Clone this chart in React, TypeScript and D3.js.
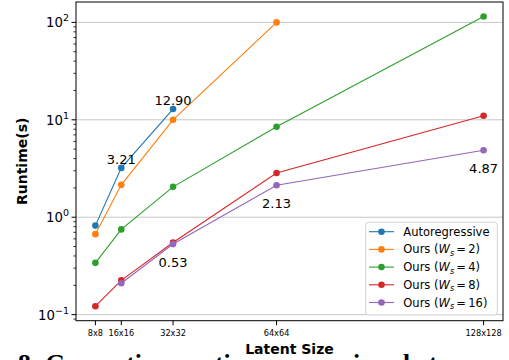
import React from "react";
import * as d3 from "d3";

// latent sizes (side length) and their tick labels
const sizes = [8, 16, 32, 64, 128];
const sizeLabels = ["8x8", "16x16", "32x32", "64x64", "128x128"];

// runtimes in seconds, null = not measured
const autoregressive = [0.82, 3.21, 12.9, null, null];
const oursWs2 = [0.67, 2.15, 10.0, 100.0, null];
const oursWs4 = [0.34, 0.75, 2.05, 8.5, 115.0];
const oursWs8 = [0.122, 0.225, 0.55, 2.84, 11.0];
const oursWs16 = [null, 0.21, 0.53, 2.13, 4.87];

const seriesNames = ["Autoregressive", "2", "4", "8", "16"];
const seriesColors = ["#1f77b4", "#ff7f0e", "#2ca02c", "#d62728", "#9467bd"];
const allSeries = [autoregressive, oursWs2, oursWs4, oursWs8, oursWs16];

// value labels: [series index, point index, text, above?]
const annotations: [number, number, string, boolean][] = [
  [0, 1, "3.21", true],
  [0, 2, "12.90", true],
  [4, 2, "0.53", false],
  [4, 3, "2.13", false],
  [4, 4, "4.87", false],
];

const majorTicks = [0.1, 1, 10, 100];
const majorExp = ["\u22121", "0", "1", "2"];

const W = 509;
const H = 360;
const pad = { left: 76, right: 503, top: 2, bottom: 320.7 };

export default function App() {
  const x = d3.scaleLinear().domain([2, 134]).range([pad.left, pad.right]);
  const y = d3
    .scaleLog()
    .domain([Math.pow(10, -1.0623), Math.pow(10, 2.2094)])
    .range([pad.bottom, pad.top]);

  const minorTicks: number[] = [];
  [0.01, 0.1, 1, 10, 100].forEach((base) => {
    for (let k = 2; k <= 9; k++) {
      const v = k * base;
      if (v >= y.domain()[0] && v <= y.domain()[1]) minorTicks.push(v);
    }
  });

  const line = d3
    .line<[number, number | null]>()
    .defined((d) => d[1] != null)
    .x((d) => x(d[0]))
    .y((d) => y(d[1] as number));

  const font = "DejaVu Sans";
  const legendX = 365.7;
  const legendY = 222.3;
  const rowH = 17.7;

  return (
    <svg
      width={W}
      height={H}
      style={{ position: "absolute", left: 0, top: 0, background: "#fff" }}
      fontFamily={font}
    >
      {/* grid */}
      {majorTicks.map((t) => (
        <line
          key={"g" + t}
          x1={pad.left}
          x2={pad.right}
          y1={y(t)}
          y2={y(t)}
          stroke="#c8c8c8"
          strokeWidth={1}
        />
      ))}

      {/* series */}
      {allSeries.map((s, i) => {
        const pts = sizes.map((sz, j) => [sz, s[j]] as [number, number | null]);
        return (
          <g key={"s" + i}>
            <path d={line(pts) || ""} fill="none" stroke={seriesColors[i]} strokeWidth={1.1} />
            {pts
              .filter((p) => p[1] != null)
              .map((p, j) => (
                <circle key={j} cx={x(p[0])} cy={y(p[1] as number)} r={3.3} fill={seriesColors[i]} />
              ))}
          </g>
        );
      })}

      {/* value labels */}
      {annotations.map(([si, pi, txt, above]) => {
        const v = allSeries[si][pi] as number;
        return (
          <text
            key={txt}
            x={x(sizes[pi])}
            y={y(v) + (above ? -4 : 23)}
            textAnchor="middle"
            fontSize={13}
            fill="#000"
          >
            {txt}
          </text>
        );
      })}

      {/* spines */}
      <rect
        x={pad.left}
        y={pad.top}
        width={pad.right - pad.left}
        height={pad.bottom - pad.top}
        fill="none"
        stroke="#000"
        strokeWidth={1}
      />

      {/* y ticks */}
      {majorTicks.map((t, i) => (
        <g key={"yt" + t}>
          <line x1={pad.left - 4.5} x2={pad.left} y1={y(t)} y2={y(t)} stroke="#000" strokeWidth={1} />
          <text x={pad.left - 7} y={y(t) + 5} textAnchor="end" fontSize={13.3} fill="#000">
            10
            <tspan dy={-6} fontSize={9.5}>
              {majorExp[i]}
            </tspan>
          </text>
        </g>
      ))}
      {minorTicks.map((t) => (
        <line
          key={"ym" + t}
          x1={pad.left - 2.6}
          x2={pad.left}
          y1={y(t)}
          y2={y(t)}
          stroke="#000"
          strokeWidth={0.8}
        />
      ))}

      {/* x ticks */}
      {sizes.map((sz, i) => (
        <g key={"xt" + sz}>
          <line x1={x(sz)} x2={x(sz)} y1={pad.bottom} y2={pad.bottom + 4.5} stroke="#000" strokeWidth={1} />
          <text x={x(sz)} y={336} textAnchor="middle" fontSize={8.2} fill="#000">
            {sizeLabels[i]}
          </text>
        </g>
      ))}

      {/* figure caption, cut off by the page edge */}
      <text x={18} y={372} fontSize={25.5} fontWeight="bold" fontFamily="Liberation Serif" fill="#000">
        8: Generation runtime comparison between
      </text>

      {/* axis titles */}
      <text
        x={(pad.left + pad.right) / 2}
        y={354}
        textAnchor="middle"
        fontSize={14}
        fontWeight="bold"
        fill="#000"
      >
        Latent Size
      </text>
      <text
        transform={`translate(26.5,${(pad.top + pad.bottom) / 2}) rotate(-90)`}
        textAnchor="middle"
        fontSize={14}
        fontWeight="bold"
        fill="#000"
      >
        Runtime(s)
      </text>

      {/* legend */}
      <rect
        x={legendX}
        y={legendY}
        width={131.6}
        height={92.7}
        rx={3}
        fill="#fff"
        fillOpacity={0.8}
        stroke="#d4d4d4"
        strokeWidth={1}
      />
      {seriesNames.map((name, i) => {
        const ly = 231.7 + i * rowH;
        return (
          <g key={"l" + i}>
            <line x1={369} x2={394} y1={ly} y2={ly} stroke={seriesColors[i]} strokeWidth={1.1} />
            <circle cx={381.5} cy={ly} r={3.3} fill={seriesColors[i]} />
            {i === 0 ? (
              <text x={403.3} y={ly + 4} fontSize={11.5} fill="#000">
                {name}
              </text>
            ) : (
              <text x={403.3} y={ly + 4} fontSize={11.5} fill="#000">
                Ours (
                <tspan fontStyle="italic">W</tspan>
                <tspan fontStyle="italic" fontSize={8} dy={2.5}>
                  s
                </tspan>
                <tspan dy={-2.5}>{"\u2009=\u2009" + name})</tspan>
              </text>
            )}
          </g>
        );
      })}
    </svg>
  );
}
